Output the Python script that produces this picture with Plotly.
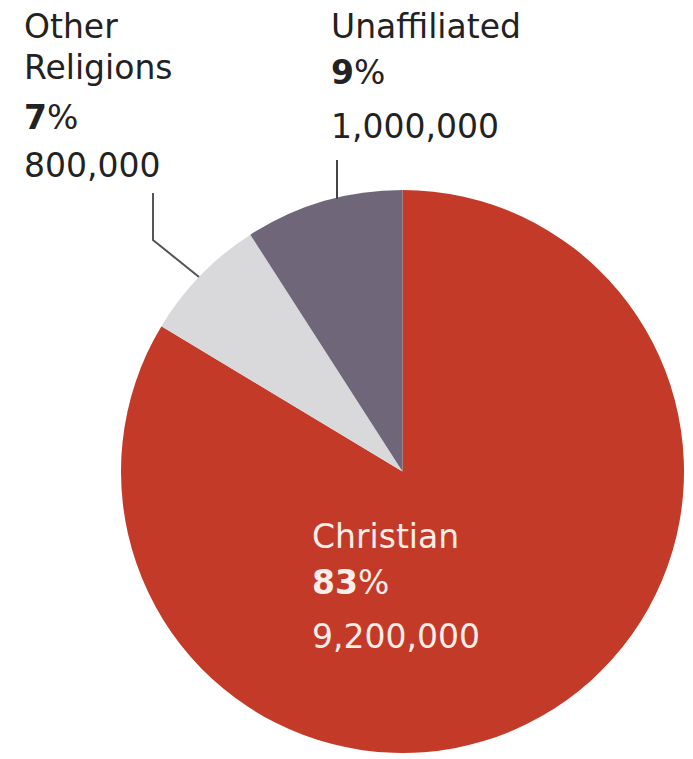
import plotly.graph_objects as go

labels = ["Christian", "Other Religions", "Unaffiliated"]
values = [9200000, 800000, 1000000]
pct_labels = ["83%", "7%", "9%"]
count_labels = ["9,200,000", "800,000", "1,000,000"]
colors = ["#c43a29", "#d9d9db", "#6f6779"]

OFF = 8  # page body margin
W, H = 693 - OFF, 759 - OFF

def px(x):
    return (x - OFF) / W

def py(y):
    return 1 - (y - OFF) / H

fig = go.Figure(go.Pie(
    labels=labels,
    values=values,
    sort=False,
    direction="clockwise",
    rotation=0,
    textinfo="none",
    marker=dict(colors=colors, line=dict(width=0)),
    domain=dict(x=[px(121), px(684)], y=[py(753), py(190)]),
    showlegend=False,
))

FONT = "DejaVu Sans"
FS = 33
annotations = []

def add(text, x, y_center, color="#222222", size=FS):
    annotations.append(dict(
        text=text, x=px(x), y=py(y_center), xref="paper", yref="paper",
        xanchor="left", yanchor="middle", showarrow=False,
        font=dict(family=FONT, size=size, color=color),
    ))

# Other Religions
add("Other", 22, 27)
add("Religions", 22, 68)
add("<b>" + pct_labels[1][:-1] + "</b>%", 22, 117)
add(count_labels[1], 22, 165)
# Unaffiliated
add(labels[2], 329, 27)
add("<b>" + pct_labels[2][:-1] + "</b>%", 329, 72)
add(count_labels[2], 329, 126)
# Christian
add(labels[0], 310, 536, color="#fbeee8")
add("<b>" + pct_labels[0][:-1] + "</b>%", 310, 582, color="#fbeee8")
add(count_labels[0], 310, 636, color="#fbeee8")

shapes = [
    dict(type="line", xref="paper", yref="paper",
         x0=px(337), y0=py(160), x1=px(337), y1=py(199),
         line=dict(color="#444444", width=2)),
    dict(type="path", xref="paper", yref="paper",
         path=f"M {px(153)},{py(193)} L {px(153)},{py(240)} L {px(199)},{py(277)}",
         line=dict(color="#555555", width=2)),
]

fig.update_layout(
    width=W, height=H,
    margin=dict(l=0, r=0, t=0, b=0),
    paper_bgcolor="white",
    plot_bgcolor="white",
    annotations=annotations,
    shapes=shapes,
)

fig.write_html("out.html")
